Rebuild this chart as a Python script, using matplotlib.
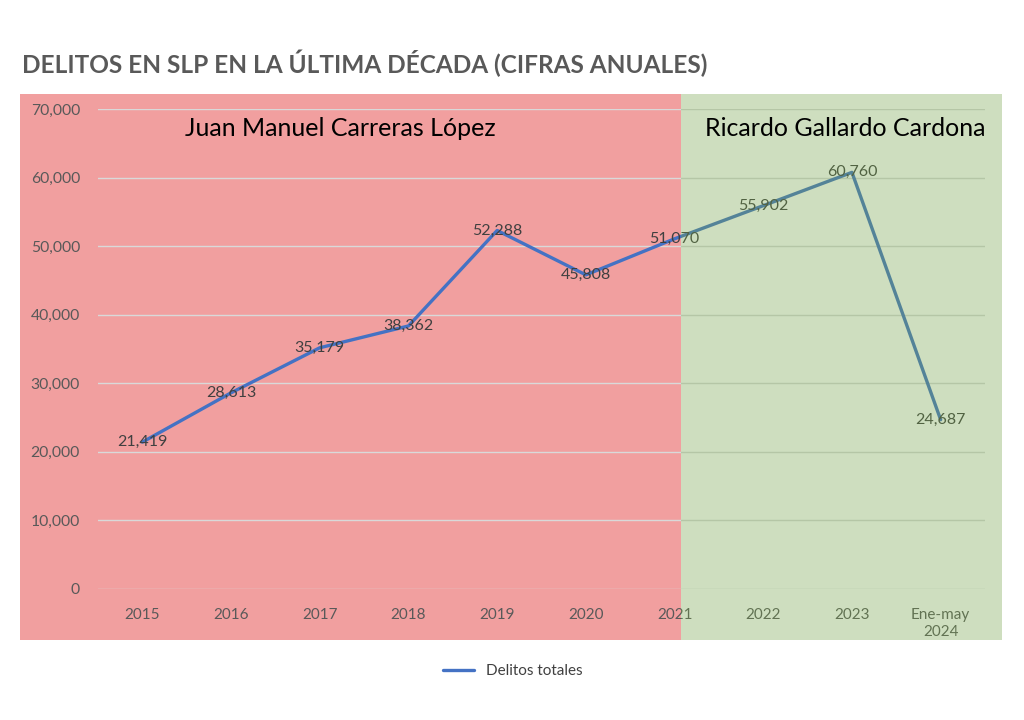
import matplotlib
matplotlib.use("Agg")
import matplotlib.pyplot as plt
from matplotlib.patches import Rectangle
from matplotlib.ticker import FuncFormatter

categories = ["2015", "2016", "2017", "2018", "2019", "2020", "2021", "2022", "2023", "Ene-may\n2024"]
values = [21419, 28613, 35179, 38362, 52288, 45808, 51070, 55902, 60760, 24687]
series_name = "Delitos totales"
title = "DELITOS EN SLP EN LA ÚLTIMA DÉCADA (CIFRAS ANUALES)"
label_left = "Juan Manuel Carreras López"
label_right = "Ricardo Gallardo Cardona"

plt.rcParams['font.family'] = ['Lato', 'DejaVu Sans']

W, H = 1024, 720
fig = plt.figure(figsize=(W / 100, H / 100), dpi=100)

def fx(px):
    return px / W

def fy(py):
    return 1 - py / H

# red background (behind)
fig.patches.append(Rectangle((fx(20), fy(640)), fx(681) - fx(20), fy(94) - fy(640),
                             transform=fig.transFigure, facecolor="#F19F9F", edgecolor="none", zorder=-5))

ax = fig.add_axes([fx(98), fy(589), fx(985) - fx(98), fy(109) - fy(589)])
ax.set_zorder(1)
ax.patch.set_alpha(0)
x = list(range(len(categories)))
ax.plot(x, values, color="#4472C4", lw=2.4, solid_capstyle="round", label=series_name, zorder=3)
for xi, v in zip(x, values):
    ax.text(xi, v, f"{v:,}", ha="center", va="center", fontsize=11.5, color="#404040", zorder=4)

ax.set_xlim(-0.5, len(categories) - 0.5)
ax.set_ylim(0, 70000)
ax.set_yticks(range(0, 70001, 10000))
ax.yaxis.set_major_formatter(FuncFormatter(lambda v, p: f"{int(v):,}"))
ax.set_xticks(x)
ax.set_xticklabels(categories)
ax.grid(axis="y", color="#D9D9D9", lw=1)
ax.set_axisbelow(True)
for s in ax.spines.values():
    s.set_visible(False)
ax.tick_params(axis="both", length=0, colors="#595959", labelsize=11)
ax.tick_params(axis="y", pad=13, labelsize=11.3)
ax.tick_params(axis="x", pad=14)

# green overlay (on top)
fig.patches.append(Rectangle((fx(681), fy(640)), fx(1002) - fx(681), fy(94) - fy(640),
                             transform=fig.transFigure, facecolor="#73A348", alpha=0.35,
                             edgecolor="none", zorder=10))

fig.text(fx(22), fy(63), title, fontsize=17.6, fontweight="bold", color="#595959", va="center", ha="left")
fig.text(fx(340), fy(128), label_left, fontsize=18, color="black", va="center", ha="center", zorder=11)
fig.text(fx(845), fy(128), label_right, fontsize=18, color="black", va="center", ha="center", zorder=11)

leg = fig.legend(loc="center", bbox_to_anchor=(fx(513), fy(671)), frameon=False, fontsize=11,
                 handlelength=2.0, labelcolor="#404040")

fig.savefig("out.png", dpi=100)
